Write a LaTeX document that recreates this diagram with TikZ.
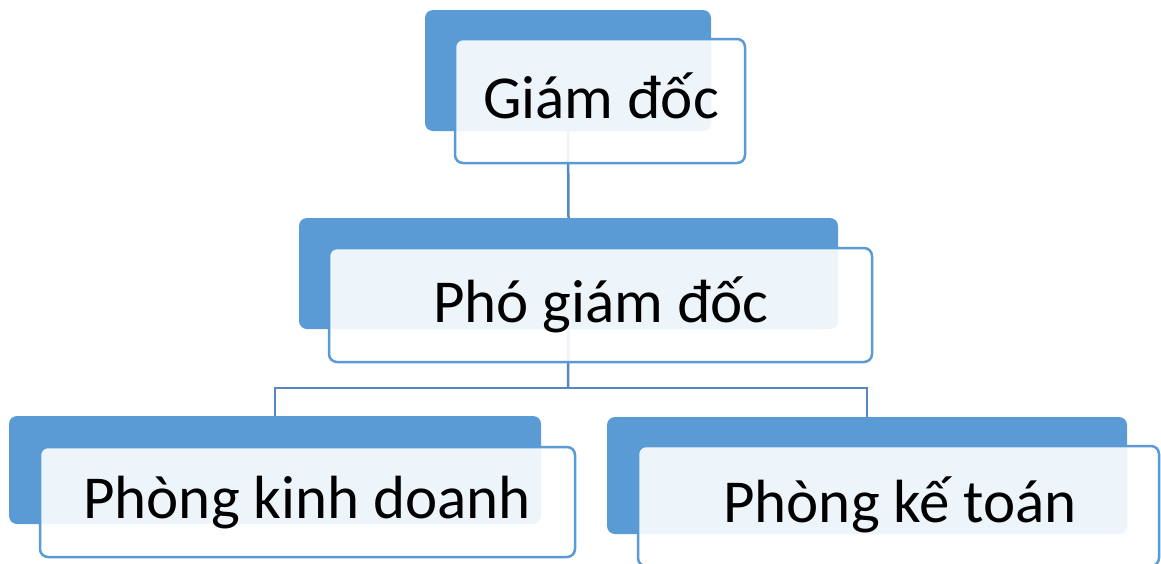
\documentclass[tikz,border=0pt]{standalone}
\usepackage{fontspec}
\setmainfont{Carlito}
\definecolor{boxblue}{HTML}{5B9BD5}
\definecolor{linkblue}{HTML}{5687C4}
\begin{document}
\begin{tikzpicture}[x=1pt,y=-1pt,
  backbox/.style={rectangle, rounded corners=8pt, fill=boxblue, draw=none, inner sep=0pt},
  frontbox/.style={rectangle, rounded corners=8pt, fill=white, fill opacity=0.9, draw=boxblue, line width=2.5pt, inner sep=0pt},
  link/.style={draw=linkblue, line width=2.5pt},
  label/.style={anchor=base, inner sep=0pt, font=\fontsize{61}{73}\selectfont}]
\useasboundingbox (0,0) rectangle (1161,563);

% shaded back panels
\node[backbox, minimum width=286pt, minimum height=121pt] (gdBack) at (568,70.5) {};
\node[backbox, minimum width=539pt, minimum height=111pt] (pgdBack) at (568.5,273.5) {};
\node[backbox, minimum width=532pt, minimum height=108pt] (kdBack) at (275,470) {};
\node[backbox, minimum width=520pt, minimum height=117pt] (ktBack) at (867,475.5) {};

% connectors
\coordinate (bus) at (568,388);
\draw[link] (gdBack.south) -- (pgdBack.north);
\draw[link] (pgdBack.south) -- (bus);
\draw[link] (kdBack.north) |- (bus) -| (ktBack.north);

% translucent front cards
\node[frontbox, minimum width=290pt, minimum height=124pt] (gd) at (600,101) {};
\node[frontbox, minimum width=543pt, minimum height=114pt] (pgd) at (600.5,305) {};
\node[frontbox, minimum width=535pt, minimum height=110pt] (kd) at (307.5,502) {};
\node[frontbox, minimum width=521pt, minimum height=120pt] (kt) at (898.5,506) {};

% titles
\node[label] (gdText) at (601,118) {Giám đốc};
\node[label] (pgdText) at (601,322) {Phó giám đốc};
\node[label] (kdText) at (307,518) {Phòng kinh doanh};
\node[label] (ktText) at (900,522) {Phòng kế toán};
\end{tikzpicture}
\end{document}
